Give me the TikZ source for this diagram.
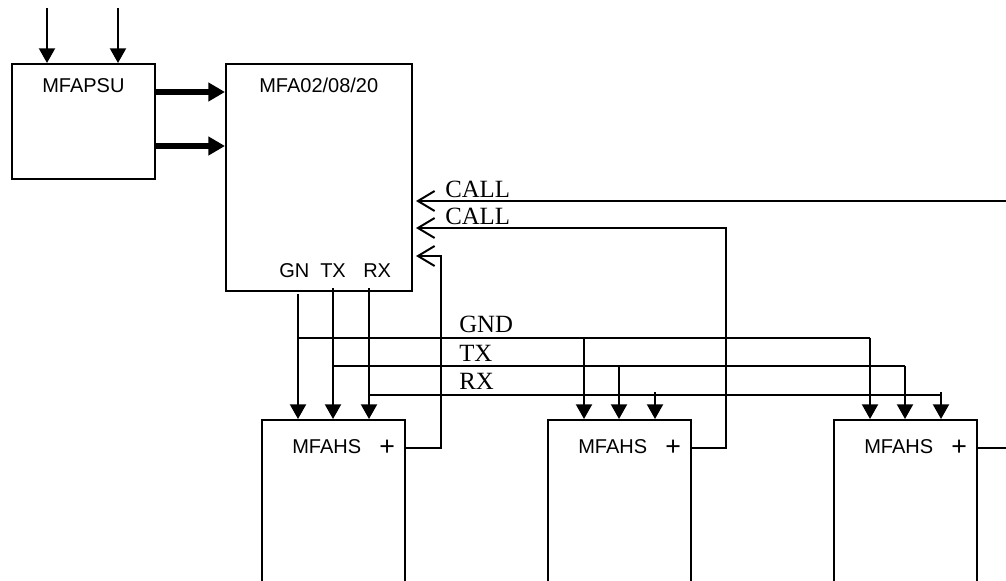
\documentclass[tikz,border=0pt]{standalone}
\usepackage{fontspec}
\setmainfont{Liberation Serif}
\setsansfont{Liberation Sans}
\usetikzlibrary{arrows.meta}
\tikzset{
  boxnode/.style={draw=black,line width=1.5pt,inner sep=0pt,fill=white},
  line/.style={draw=black,line width=1.5pt},
  sig/.style={line,-{Triangle[length=11pt,width=12pt]}},
  power/.style={draw=black,line width=4pt,-{Triangle[length=12.5pt,width=13.5pt]}},
  call/.style={line,-{Straight Barb[length=12.5pt,width=15pt,line width=1.5pt]}},
  sanslabel/.style={anchor=base west,inner sep=0pt,font=\sffamily\fontsize{15pt}{16pt}\selectfont},
  pluslabel/.style={anchor=base west,inner sep=0pt,font=\sffamily\fontsize{20pt}{22pt}\selectfont},
  seriflabel/.style={anchor=base west,inner sep=0pt,font=\fontsize{18.6pt}{20pt}\selectfont}
}
\begin{document}
\begin{tikzpicture}[x=0.75pt,y=-0.75pt]
\useasboundingbox (0,0) rectangle (1006,581);
\clip (0,0) rectangle (1006,581);
% boxes
\node[boxnode,minimum width=107.6pt,minimum height=86.25pt] (psu) at (83.25,121.5) {};
\node[boxnode,minimum width=139.5pt,minimum height=170.25pt] (mfa) at (319,177.5) {};
\node[boxnode,minimum width=107.25pt,minimum height=165pt] (hsa) at (333.5,530) {};
\node[boxnode,minimum width=107.25pt,minimum height=165pt] (hsb) at (619.5,530) {};
\node[boxnode,minimum width=107.25pt,minimum height=165pt] (hsc) at (905.5,530) {};
% labels
\node[sanslabel] (lpsu) at (42,93) {MFAPSU};
\node[sanslabel] (lmfa) at (259,93) {MFA02/08/20};
\node[sanslabel] (lgn) at (279,277) {GN};
\node[sanslabel] (ltx) at (320,277) {TX};
\node[sanslabel] (lrx) at (363,277) {RX};
\node[sanslabel] (lhsa) at (292,453) {MFAHS};
\node[sanslabel] (lhsb) at (578,453) {MFAHS};
\node[sanslabel] (lhsc) at (864,453) {MFAHS};
\node[pluslabel] (pa) at (379,455) {+};
\node[pluslabel] (pb) at (665,455) {+};
\node[pluslabel] (pc) at (951,455) {+};
\node[seriflabel] (lcalla) at (445,197) {CALL};
\node[seriflabel] (lcallb) at (445,224) {CALL};
\node[seriflabel] (lgnd) at (459,332) {GND};
\node[seriflabel] (ltxb) at (459,361) {TX};
\node[seriflabel] (lrxb) at (459,389) {RX};
% free ends and junctions
\coordinate (ina) at (47,8);
\coordinate (inb) at (118,8);
\coordinate (gn) at (298,294);
\coordinate (tx) at (333,288);
\coordinate (rx) at (369,288);
\coordinate (gnj) at (298,338);
\coordinate (txj) at (333,366);
\coordinate (rxj) at (369,395);
\coordinate (gnb) at (584,338);
\coordinate (txb) at (619,366);
\coordinate (rxb) at (655,392);
\coordinate (gnc) at (870,338);
\coordinate (txc) at (905,366);
\coordinate (rxc) at (941,392);
\coordinate (calltop) at (1006,201);
\coordinate (callmid) at (726,228);
\coordinate (calllow) at (441,256);
\coordinate (taila) at (405,448);
\coordinate (tailb) at (691,448);
\coordinate (tailc) at (977,448);
\coordinate (edge) at (1006,448);
\coordinate (tipa) at (416,201);
\coordinate (tipb) at (416,228);
\coordinate (tipc) at (416,256);
% inputs
\draw[sig] (ina) -- (ina |- psu.north);
\draw[sig] (inb) -- (inb |- psu.north);
% power
\coordinate (pwa) at (155,92);
\coordinate (pwb) at (155,146);
\draw[power] (pwa) -- (pwa -| mfa.west);
\draw[power] (pwb) -- (pwb -| mfa.west);
% bus
\draw[sig] (gn) -- (gn |- hsa.north);
\draw[sig] (tx) -- (tx |- hsa.north);
\draw[sig] (rx) -- (rx |- hsa.north);
\draw[line] (gnj) -- (gnc);
\draw[line] (txj) -- (txc);
\draw[line] (rxj) -- (rxj -| rxc);
\draw[sig] (gnb) -- (gnb |- hsb.north);
\draw[sig] (txb) -- (txb |- hsb.north);
\draw[sig] (rxb) -- (rxb |- hsb.north);
\draw[sig] (gnc) -- (gnc |- hsc.north);
\draw[sig] (txc) -- (txc |- hsc.north);
\draw[sig] (rxc) -- (rxc |- hsc.north);
% call lines
\draw[call] (calltop) -- (tipa);
\draw[call] (tailb) -- (tailb -| callmid) -- (callmid) -- (tipb);
\draw[call] (taila) -- (taila -| calllow) -- (calllow) -- (tipc);
\draw[line] (tailc) -- (edge);
\end{tikzpicture}
\end{document}
